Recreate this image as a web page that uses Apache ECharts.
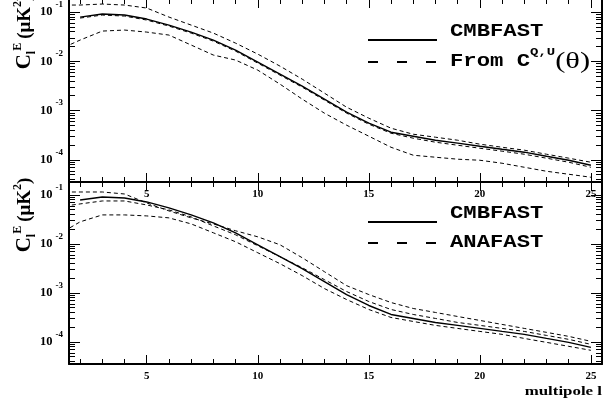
<!DOCTYPE html>
<html><head><meta charset="utf-8">
<script src="https://cdn.jsdelivr.net/npm/echarts@6/dist/echarts.min.js"></script>
<style>html,body{margin:0;padding:0;background:#fff}#c{width:610px;height:414px}</style>
</head><body><div id="c"></div>
<script>
// ---- data ----
const ells = [2,3,4,5,6,7,8,9,10,11,12,13,14,15,16,17,18,19,20,21,22,23,24,25];
const bandEll = [1,2,3,4,5,6,7,8,9,10,11,12,13,14,15,16,17,18,19,20,21,22,23,24,25];
const cmbfast = [0.0791,0.0911,0.0869,0.0721,0.0544,0.0392,0.0270,0.0169,0.00963,0.00549,0.00313,0.00171,0.000928,0.000555,0.000364,0.000302,0.000250,0.000218,0.000189,0.000164,0.000143,0.000118,0.0000981,0.0000777];
const fromQUMean = [0.0755,0.0869,0.0829,0.0688,0.0519,0.0374,0.0257,0.0161,0.00919,0.00524,0.00299,0.00163,0.000886,0.000529,0.000347,0.000275,0.000228,0.000198,0.000172,0.000150,0.000130,0.000108,0.0000894,0.0000707];
const fromQUUpper = [0.1388,0.1388,0.1454,0.1388,0.1206,0.0791,0.0544,0.0374,0.0234,0.0140,0.00799,0.00435,0.00226,0.00117,0.000701,0.000439,0.000331,0.000288,0.000250,0.000208,0.000180,0.000157,0.000130,0.000108,0.0000894];
const fromQULower = [0.0169,0.0270,0.0411,0.0431,0.0392,0.0341,0.0214,0.0134,0.0106,0.00662,0.00344,0.00171,0.000886,0.000505,0.000302,0.000180,0.000124,0.000113,0.000103,0.0000981,0.0000853,0.0000707,0.0000586,0.0000510,0.0000443];
const anafastMean = [0.0570,0.0657,0.0755,0.0755,0.0626,0.0496,0.0357,0.0234,0.0154,0.00919,0.00549,0.00328,0.00187,0.00107,0.000669,0.000460,0.000364,0.000302,0.000250,0.000218,0.000189,0.000164,0.000136,0.000113,0.0000894];
const anafastUpper = [0.1151,0.1151,0.1151,0.1048,0.0688,0.0473,0.0341,0.0257,0.0186,0.0140,0.00963,0.00524,0.00272,0.00141,0.000928,0.000638,0.000482,0.000400,0.000331,0.000275,0.000228,0.000189,0.000157,0.000130,0.000103];
const anafastLower = [0.0154,0.0283,0.0392,0.0392,0.0374,0.0341,0.0257,0.0169,0.0111,0.00662,0.00396,0.00226,0.00123,0.000734,0.000460,0.000316,0.000262,0.000218,0.000189,0.000164,0.000143,0.000118,0.0000981,0.0000814,0.0000675];
const xMajorTicks = [5,10,15,20,25];
const xMinorTicks = [2,3,4,5,6,7,8,9,10,11,12,13,14,15,16,17,18,19,20,21,22,23,24,25];
const yMajorTicks = [0.0001,0.001,0.01,0.1];
const yMinorTicks = [0.00004,0.00005,0.00006,0.00007,0.00008,0.00009,
  0.0002,0.0003,0.0004,0.0005,0.0006,0.0007,0.0008,0.0009,
  0.002,0.003,0.004,0.005,0.006,0.007,0.008,0.009,
  0.02,0.03,0.04,0.05,0.06,0.07,0.08,0.09];

// ---- helpers ----
const SERIF = '"Liberation Serif", "Times New Roman", serif';
const MONO = '"Liberation Mono", "Courier New", monospace';
const X_MIN = 1.5, X_MAX = 25.5;
const Y_MIN = Math.pow(10, -4.45), Y_MAX = Math.pow(10, -0.735);

function pairs(xs, ys) { return xs.map((x, i) => [x, ys[i]]); }

function xAx(grid, pos, ticks, len, showLine, showLabel) {
  return {
    type: 'value', gridIndex: grid, position: pos, min: X_MIN, max: X_MAX,
    splitLine: { show: false },
    axisLine: { show: showLine, onZero: false, lineStyle: { color: '#000', width: 2 } },
    axisTick: { show: true, inside: true, length: len, customValues: ticks, lineStyle: { color: '#000', width: 1 } },
    axisLabel: showLabel ? { show: true, customValues: xMajorTicks, margin: 7, color: '#000',
      fontFamily: SERIF, fontWeight: 'bold', fontSize: 11 } : { show: false }
  };
}
function yAx(grid, pos, ticks, len, showLine, showLabel) {
  return {
    type: 'log', logBase: 10, gridIndex: grid, position: pos, min: Y_MIN, max: Y_MAX,
    splitLine: { show: false },
    axisLine: { show: showLine, onZero: false, lineStyle: { color: '#000', width: 2 } },
    axisTick: { show: true, inside: true, length: len, customValues: ticks, lineStyle: { color: '#000', width: 1 } },
    axisLabel: showLabel ? {
      show: true, customValues: yMajorTicks, margin: 6,
      formatter: v => '{b|10}{s|' + Math.round(Math.log10(v)) + '}',
      rich: {
        b: { fontFamily: SERIF, fontWeight: 'bold', fontSize: 12.5, color: '#000', lineHeight: 24 },
        s: { fontFamily: SERIF, fontWeight: 'bold', fontSize: 9, color: '#000', lineHeight: 9, verticalAlign: 'top', padding: [0, 0, 0, 3] }
      }
    } : { show: false }
  };
}
function line(name, xs, ys, g, dashed) {
  return {
    type: 'line', name: name, xAxisIndex: g * 4, yAxisIndex: g * 4, data: pairs(xs, ys),
    symbol: 'none', showSymbol: false, smooth: false, clip: true, silent: true,
    lineStyle: dashed ? { color: '#000', width: 1, type: [4, 3] } : { color: '#000', width: 1.4, type: 'solid' },
    z: dashed ? 3 : 4
  };
}

const xAxes = [], yAxes = [];
[0, 1].forEach(g => {
  xAxes.push(xAx(g, 'bottom', xMajorTicks, 9, true, true));
  xAxes.push(xAx(g, 'bottom', xMinorTicks, 5, false, false));
  xAxes.push(xAx(g, 'top', xMajorTicks, 9, true, false));
  xAxes.push(xAx(g, 'top', xMinorTicks, 5, false, false));
  yAxes.push(yAx(g, 'left', yMajorTicks, 11, true, true));
  yAxes.push(yAx(g, 'left', yMinorTicks, 6, false, false));
  yAxes.push(yAx(g, 'right', yMajorTicks, 11, true, false));
  yAxes.push(yAx(g, 'right', yMinorTicks, 6, false, false));
});

const titleRich = {
  c: { fontFamily: SERIF, fontWeight: 'bold', fontSize: 21, color: '#000', lineHeight: 26 },
  sb: { fontFamily: SERIF, fontWeight: 'bold', fontSize: 12, color: '#000', lineHeight: 12, verticalAlign: 'bottom' },
  sp: { fontFamily: SERIF, fontWeight: 'bold', fontSize: 12, color: '#000', lineHeight: 12, verticalAlign: 'top' },
  p: { fontFamily: SERIF, fontWeight: 'bold', fontSize: 19, color: '#000', lineHeight: 26, padding: [0, 0, 0, 4] },
  q: { fontFamily: SERIF, fontWeight: 'bold', fontSize: 19, color: '#000', lineHeight: 26 }
};
const titleText = '{c|C}{sb|l}{sp|E}{p|(μK}{sp|2}{q|)}';

const legRich = {
  f: { fontFamily: MONO, fontWeight: 'bold', fontSize: 17.5, color: '#000', lineHeight: 30 },
  s: { fontFamily: MONO, fontWeight: 'bold', fontSize: 11, color: '#000', lineHeight: 11, verticalAlign: 'top' },
  t: { fontFamily: SERIF, fontSize: 24, color: '#000', lineHeight: 30 }
};

function legendText(x, y, text) {
  return { type: 'text', x: x, y: y, scaleX: 1.27, silent: true,
    style: { text: text, rich: legRich, align: 'left', verticalAlign: 'middle' } };
}
function legendLine(y, dashed) {
  return { type: 'line', silent: true, shape: { x1: 368, y1: y, x2: 437, y2: y },
    style: { stroke: '#000', lineWidth: 2, lineDash: dashed ? [10, 19] : null } };
}

const option = {
  animation: false,
  backgroundColor: '#fff',
  grid: [
    { left: 69, top: -1, width: 533, height: 183, outerBoundsMode: 'none' },
    { left: 69, top: 182, width: 533, height: 182, outerBoundsMode: 'none' }
  ],
  xAxis: xAxes,
  yAxis: yAxes,
  series: [
    line('CMBFAST', ells, cmbfast, 0, false),
    line('From C^{Q,U}(θ)', ells, fromQUMean, 0, true),
    line('From C^{Q,U}(θ) upper', bandEll, fromQUUpper, 0, true),
    line('From C^{Q,U}(θ) lower', bandEll, fromQULower, 0, true),
    line('CMBFAST ', ells, cmbfast, 1, false),
    line('ANAFAST', bandEll, anafastMean, 1, true),
    line('ANAFAST upper', bandEll, anafastUpper, 1, true),
    line('ANAFAST lower', bandEll, anafastLower, 1, true)
  ],
  graphic: [
    { type: 'text', x: 25, y: 32, rotation: Math.PI / 2, silent: true,
      style: { text: titleText, rich: titleRich, align: 'center', verticalAlign: 'middle' } },
    { type: 'text', x: 25, y: 215, rotation: Math.PI / 2, silent: true,
      style: { text: titleText, rich: titleRich, align: 'center', verticalAlign: 'middle' } },
    legendLine(40, false),
    legendText(450, 32, '{f|CMBFAST}'),
    legendLine(62, true),
    legendText(450, 62, '{f|From C}{s|Q,U}{t|(θ)}'),
    legendLine(222, false),
    legendText(450, 214, '{f|CMBFAST}'),
    legendLine(243, true),
    legendText(450, 243, '{f|ANAFAST}'),
    { type: 'text', x: 602, y: 392, scaleX: 1.25, silent: true,
      style: { text: 'multipole l', fontFamily: SERIF, fontWeight: 'bold', fontSize: 13.5, fill: '#000',
        align: 'right', verticalAlign: 'middle' } }
  ]
};
const chart = echarts.init(document.getElementById('c'));
chart.setOption(option);
</script>
</body></html>
